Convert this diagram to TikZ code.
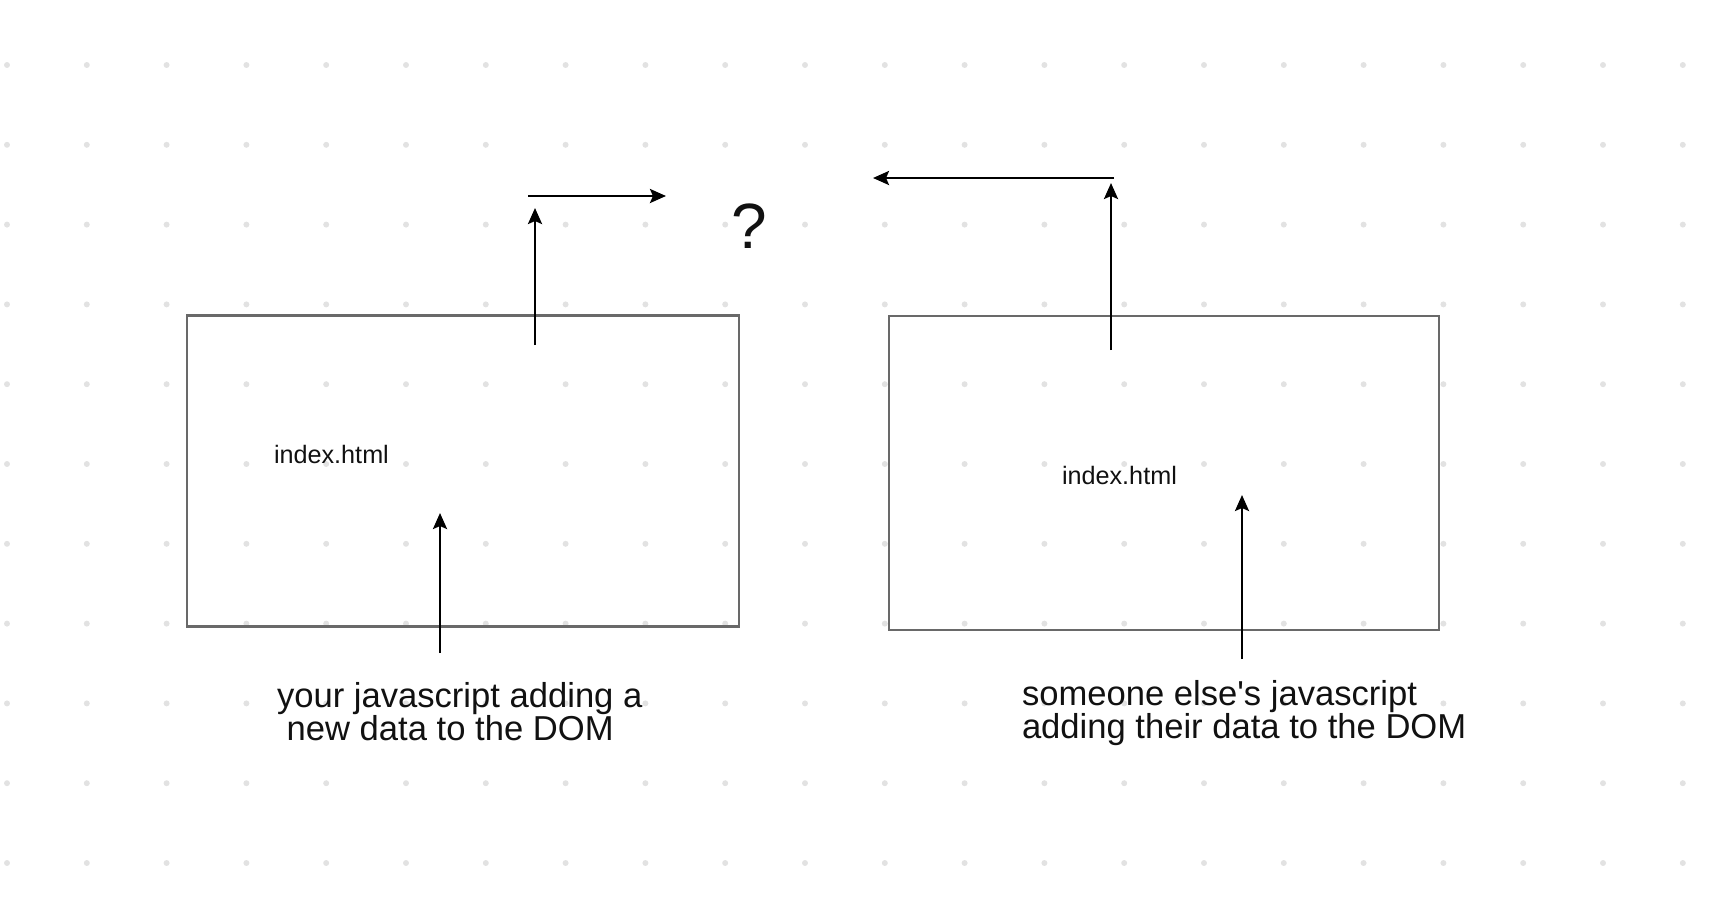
\documentclass[tikz,border=0pt]{standalone}
\usepackage{fontspec}
\setmainfont{Liberation Sans}
\usepackage{tikz}
\usetikzlibrary{arrows.meta}

\definecolor{griddot}{RGB}{226,226,226}
\definecolor{boxline}{RGB}{105,105,105}
\definecolor{inktext}{RGB}{17,17,17}

% straight apostrophe, kept away from the TeX quote mapping
\newcommand{\plainquote}{\XeTeXglyph\XeTeXcharglyph"27\relax}

\begin{document}
\begin{tikzpicture}[
      x=1pt, y=-1pt,
      every node/.style = {inner sep=0pt, outer sep=0pt, text=inktext},
      pagebox/.style = {draw=boxline, line width=2.2pt,
                        minimum width=552pt, minimum height=311pt},
      filename/.style = {font=\fontsize{25.2}{30}\selectfont, anchor=base west},
      caption/.style = {font=\fontsize{34.6}{33}\selectfont, align=left,
                        anchor=north west},
      push/.style = {draw=black, line width=2.6pt,
                     -{Stealth[length=16pt, width=14pt, inset=3pt]}}
   ]
   \useasboundingbox (0,0) rectangle (1714,900);

   % dotted background
   \foreach \i in {0,...,21}
      \foreach \j in {0,...,10}
         \fill[griddot] (7+79.8*\i, 65+79.8*\j) circle (3pt);

   % the two pages
   \node[pagebox] (ours) at (463,471) {};
   \node[pagebox, minimum width=550pt, minimum height=314pt] (theirs) at (1164,473) {};

   \node[filename] (ours file) at (274,463) {index.html};
   \node[filename] (theirs file) at (1062,484) {index.html};

   \node[font=\fontsize{64}{70}\selectfont, anchor=base west] (what) at (731,248) {?};

   \node[caption] (ours js) at (277,682)
      {your javascript adding a\\\hspace*{0.28em}new data to the DOM};
   \node[caption] (theirs js) at (1022,680)
      {someone else\plainquote s javascript\\adding their data to the DOM};

   % arrow ends
   \coordinate (ours up tail) at (535,345);
   \coordinate (ours up head) at (535,208);
   \coordinate (ours out tail) at (528,196);
   \coordinate (ours out head) at (666,196);
   \coordinate (ours in tail) at (440,653);
   \coordinate (ours in head) at (440,513);
   \coordinate (theirs up tail) at (1111,350);
   \coordinate (theirs up head) at (1111,183);
   \coordinate (theirs out tail) at (1114,178);
   \coordinate (theirs out head) at (873,178);
   \coordinate (theirs in tail) at (1242,659);
   \coordinate (theirs in head) at (1242,495);

   \draw[push] (ours up tail) -- (ours up head);
   \draw[push] (ours out tail) -- (ours out head);
   \draw[push] (ours in tail) -- (ours in head);
   \draw[push] (theirs up tail) -- (theirs up head);
   \draw[push] (theirs out tail) -- (theirs out head);
   \draw[push] (theirs in tail) -- (theirs in head);
\end{tikzpicture}
\end{document}
